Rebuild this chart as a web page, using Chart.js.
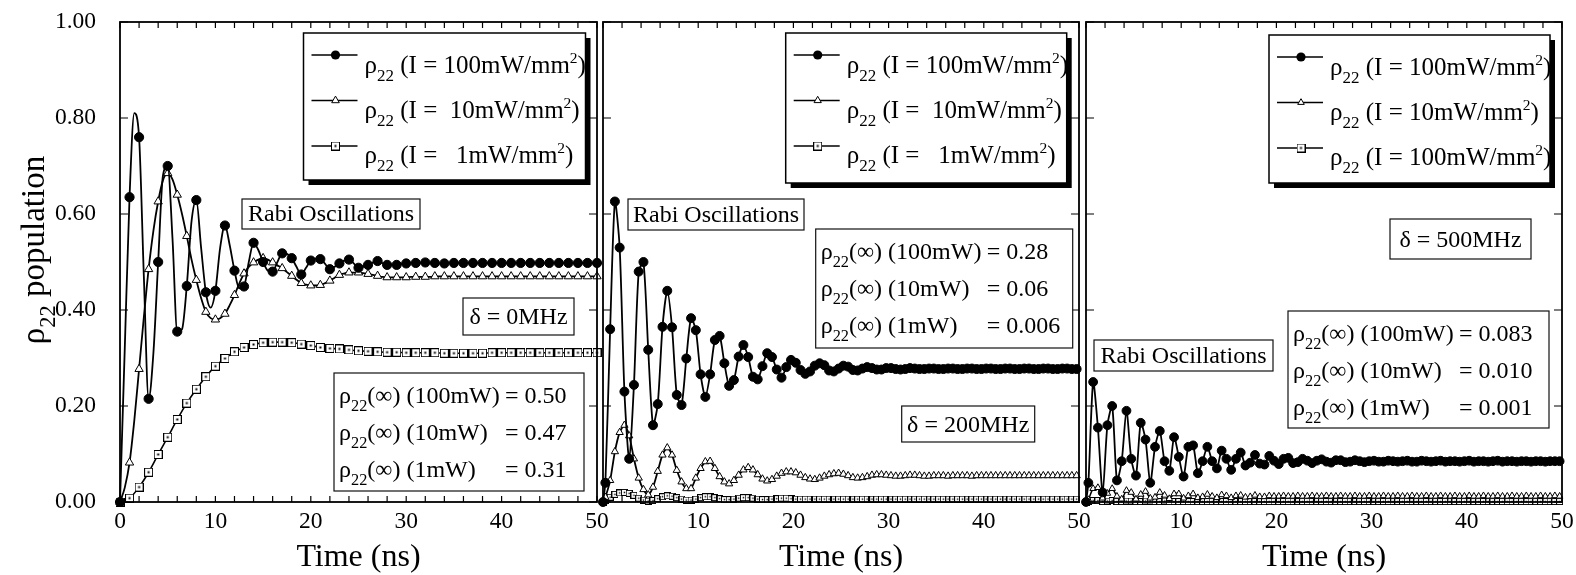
<!DOCTYPE html>
<html>
<head>
<meta charset="utf-8">
<title>rho22 population vs time</title>
<script src="https://cdn.jsdelivr.net/npm/chart.js@4.4.1/dist/chart.umd.min.js"></script>
<style>
  body { margin: 0; background: #fff; }
  #wrap { position: relative; width: 1576px; height: 575px; overflow: hidden; }
  #wrap canvas { position: absolute; top: 0; }
</style>
</head>
<body>
<div id="wrap">
  <canvas id="c1" width="612" height="575" style="left:0px"></canvas>
  <canvas id="c2" width="503" height="575" style="left:588px"></canvas>
  <canvas id="c3" width="505" height="575" style="left:1071px"></canvas>
</div>
<script>
var FONT = '"Liberation Serif", "Times New Roman", serif';

// axes
var X_MIN = 0, X_MAX = 50, X_STEP = 10, X_MINOR = 2;
var Y_MIN = 0, Y_MAX = 1, Y_STEP = 0.2;
var yTickLabels = ['0.00', '0.20', '0.40', '0.60', '0.80', '1.00'];

// panel 1 (delta = 0 MHz): 100mW and 10mW read every 0.5 ns, 1mW every 1 ns
var STEP_A = 0.5, STEP_A1 = 1;
var p1_100 = [
  0, 0.32, 0.635, 0.81, 0.76, 0.47, 0.215, 0.31, 0.50, 0.68,
  0.70, 0.55, 0.355, 0.36, 0.45, 0.585, 0.629, 0.53, 0.437, 0.405,
  0.44, 0.53, 0.576, 0.535, 0.482, 0.445, 0.449, 0.50, 0.54, 0.525,
  0.50, 0.482, 0.48, 0.50, 0.518, 0.517, 0.508, 0.49, 0.474, 0.488,
  0.503, 0.507, 0.506, 0.496, 0.485, 0.49, 0.497, 0.503, 0.505, 0.497,
  0.488, 0.49, 0.494, 0.499, 0.502, 0.498, 0.494, 0.494, 0.494, 0.496,
  0.497, 0.498, 0.498, 0.498, 0.499, 0.498, 0.498, 0.497, 0.497, 0.498,
  0.498, 0.498, 0.498, 0.498, 0.498, 0.498, 0.498, 0.498, 0.498, 0.498,
  0.498, 0.498, 0.498, 0.498, 0.498, 0.498, 0.498, 0.498, 0.498, 0.498,
  0.498, 0.498, 0.498, 0.498, 0.498, 0.498, 0.498, 0.498, 0.498, 0.498,
  0.498
];
var p1_10 = [
  0, 0.03, 0.082, 0.17, 0.277, 0.385, 0.485, 0.565, 0.626, 0.67,
  0.685, 0.672, 0.64, 0.60, 0.554, 0.505, 0.4625, 0.425, 0.396, 0.383,
  0.38, 0.383, 0.392, 0.41, 0.431, 0.455, 0.476, 0.49, 0.499, 0.505,
  0.508, 0.505, 0.499, 0.493, 0.487, 0.479, 0.471, 0.463, 0.456, 0.453,
  0.451, 0.451, 0.452, 0.456, 0.461, 0.467, 0.473, 0.476, 0.478, 0.478,
  0.478, 0.477, 0.475, 0.473, 0.471, 0.469, 0.468, 0.468, 0.468, 0.468,
  0.468, 0.469, 0.469, 0.469, 0.469, 0.469, 0.47, 0.47, 0.47, 0.47,
  0.47, 0.47, 0.47, 0.47, 0.47, 0.47, 0.47, 0.47, 0.47, 0.47,
  0.47, 0.47, 0.47, 0.47, 0.47, 0.47, 0.47, 0.47, 0.47, 0.47,
  0.47, 0.47, 0.47, 0.47, 0.47, 0.47, 0.47, 0.47, 0.47, 0.47,
  0.47
];
var p1_1 = [
  0, 0.008, 0.031, 0.062, 0.099, 0.135, 0.172, 0.206, 0.235, 0.261,
  0.283, 0.299, 0.313, 0.322, 0.328, 0.332, 0.333, 0.333, 0.332, 0.329,
  0.326, 0.322, 0.320, 0.319, 0.317, 0.315, 0.314, 0.313, 0.312, 0.312,
  0.311, 0.311, 0.311, 0.311, 0.310, 0.310, 0.310, 0.310, 0.310, 0.311,
  0.311, 0.311, 0.311, 0.311, 0.311, 0.311, 0.311, 0.311, 0.311, 0.311,
  0.311
];

// panels 2 and 3: points at 0 and then every 0.5 ns from 0.25 ns
var STEP_B = 0.5, START_B = 0.25;
var p2_100 = [0,
  0.04, 0.36, 0.626, 0.53, 0.23, 0.09, 0.244, 0.48, 0.50, 0.317,
  0.16, 0.204, 0.365, 0.44, 0.364, 0.223, 0.202, 0.299, 0.383, 0.358,
  0.266, 0.219, 0.266, 0.3375, 0.346, 0.289, 0.242, 0.254, 0.303, 0.327,
  0.302, 0.261, 0.2555, 0.283, 0.31, 0.302, 0.276, 0.259, 0.281, 0.296,
  0.29, 0.275, 0.267, 0.272, 0.284, 0.289, 0.285, 0.274, 0.272, 0.278,
  0.284, 0.282, 0.275, 0.274, 0.278, 0.281, 0.279, 0.276, 0.276, 0.279,
  0.279, 0.277, 0.276, 0.277, 0.279, 0.278, 0.277, 0.277, 0.278, 0.278,
  0.277, 0.277, 0.278, 0.278, 0.277, 0.277, 0.278, 0.278, 0.277, 0.277,
  0.278, 0.278, 0.277, 0.277, 0.278, 0.278, 0.277, 0.277, 0.278, 0.278,
  0.277, 0.277, 0.278, 0.278, 0.277, 0.277, 0.278, 0.278, 0.277, 0.277
];
var p2_10 = [0,
  0.01, 0.045, 0.105, 0.145, 0.16, 0.138, 0.09, 0.05, 0.026, 0.015,
  0.031, 0.064, 0.098, 0.113, 0.098, 0.066, 0.042, 0.028, 0.028, 0.05,
  0.07, 0.084, 0.085, 0.07, 0.053, 0.042, 0.038, 0.045, 0.056, 0.067,
  0.072, 0.067, 0.057, 0.048, 0.044, 0.047, 0.054, 0.06, 0.063, 0.063,
  0.061, 0.056, 0.051, 0.048, 0.047, 0.05, 0.054, 0.057, 0.059, 0.06,
  0.058, 0.055, 0.051, 0.05, 0.051, 0.053, 0.056, 0.057, 0.057, 0.056,
  0.055, 0.054, 0.054, 0.055, 0.056, 0.056, 0.055, 0.054, 0.054, 0.055,
  0.055, 0.055, 0.054, 0.055, 0.055, 0.055, 0.055, 0.054, 0.055, 0.055,
  0.055, 0.055, 0.055, 0.055, 0.055, 0.055, 0.055, 0.055, 0.055, 0.055,
  0.055, 0.055, 0.055, 0.055, 0.055, 0.055, 0.055, 0.055, 0.055, 0.055
];
var p2_1 = [0,
  0.003, 0.01, 0.016, 0.019, 0.02, 0.018, 0.014, 0.008, 0.004, 0.002,
  0.003, 0.007, 0.011, 0.013, 0.012, 0.009, 0.006, 0.004, 0.004, 0.006,
  0.009, 0.011, 0.011, 0.009, 0.007, 0.005, 0.005, 0.006, 0.008, 0.009,
  0.009, 0.008, 0.006, 0.005, 0.005, 0.006, 0.007, 0.008, 0.008, 0.007,
  0.006, 0.006, 0.006, 0.006, 0.006, 0.006, 0.006, 0.006, 0.006, 0.006,
  0.006, 0.006, 0.006, 0.006, 0.006, 0.006, 0.006, 0.006, 0.006, 0.006,
  0.006, 0.006, 0.006, 0.006, 0.006, 0.006, 0.006, 0.006, 0.006, 0.006,
  0.006, 0.006, 0.006, 0.006, 0.006, 0.006, 0.006, 0.006, 0.006, 0.006,
  0.006, 0.006, 0.006, 0.006, 0.006, 0.006, 0.006, 0.006, 0.006, 0.006,
  0.006, 0.006, 0.006, 0.006, 0.006, 0.006, 0.006, 0.006, 0.006, 0.006
];
var p3_100 = [0,
  0.04, 0.25, 0.155, 0.02, 0.16, 0.20, 0.045, 0.085, 0.19, 0.09,
  0.055, 0.165, 0.13, 0.04, 0.115, 0.148, 0.085, 0.065, 0.135, 0.094,
  0.053, 0.115, 0.118, 0.06, 0.085, 0.115, 0.085, 0.07, 0.107, 0.09,
  0.067, 0.09, 0.103, 0.076, 0.082, 0.098, 0.08, 0.078, 0.096, 0.086,
  0.079, 0.09, 0.092, 0.081, 0.083, 0.09, 0.086, 0.081, 0.086, 0.089,
  0.084, 0.082, 0.087, 0.087, 0.083, 0.084, 0.087, 0.085, 0.083, 0.085,
  0.086, 0.084, 0.084, 0.086, 0.085, 0.084, 0.085, 0.086, 0.084, 0.084,
  0.086, 0.085, 0.084, 0.085, 0.086, 0.084, 0.085, 0.085, 0.084, 0.085,
  0.086, 0.084, 0.085, 0.085, 0.084, 0.085, 0.086, 0.084, 0.085, 0.085,
  0.084, 0.085, 0.085, 0.084, 0.085, 0.085, 0.084, 0.085, 0.085, 0.085
];
var p3_10 = [0,
  0.005, 0.028, 0.03, 0.008, 0.018, 0.028, 0.012, 0.006, 0.024, 0.02,
  0.006, 0.016, 0.022, 0.008, 0.01, 0.02, 0.014, 0.007, 0.017, 0.017,
  0.008, 0.013, 0.017, 0.009, 0.011, 0.016, 0.012, 0.009, 0.015, 0.013,
  0.009, 0.013, 0.014, 0.01, 0.011, 0.014, 0.011, 0.011, 0.013, 0.012,
  0.012, 0.013, 0.012, 0.012, 0.013, 0.012, 0.012, 0.013, 0.012, 0.012,
  0.013, 0.012, 0.012, 0.013, 0.012, 0.012, 0.013, 0.012, 0.012, 0.013,
  0.012, 0.012, 0.013, 0.012, 0.012, 0.013, 0.012, 0.012, 0.013, 0.012,
  0.012, 0.013, 0.012, 0.012, 0.013, 0.012, 0.012, 0.013, 0.012, 0.012,
  0.013, 0.012, 0.012, 0.013, 0.012, 0.012, 0.013, 0.012, 0.012, 0.013,
  0.012, 0.012, 0.013, 0.012, 0.012, 0.013, 0.012, 0.012, 0.013, 0.012
];
var p3_1 = [0,
  0.001, 0.003, 0.003, 0.001, 0.002, 0.003, 0.001, 0.001, 0.002, 0.002,
  0.001, 0.001, 0.002, 0.002, 0.001, 0.001, 0.002, 0.001, 0.001, 0.001,
  0.001, 0.001, 0.001, 0.001, 0.001, 0.001, 0.001, 0.001, 0.001, 0.001,
  0.001, 0.001, 0.001, 0.001, 0.001, 0.001, 0.001, 0.001, 0.001, 0.001,
  0.001, 0.001, 0.001, 0.001, 0.001, 0.001, 0.001, 0.001, 0.001, 0.001,
  0.001, 0.001, 0.001, 0.001, 0.001, 0.001, 0.001, 0.001, 0.001, 0.001,
  0.001, 0.001, 0.001, 0.001, 0.001, 0.001, 0.001, 0.001, 0.001, 0.001,
  0.001, 0.001, 0.001, 0.001, 0.001, 0.001, 0.001, 0.001, 0.001, 0.001,
  0.001, 0.001, 0.001, 0.001, 0.001, 0.001, 0.001, 0.001, 0.001, 0.001,
  0.001, 0.001, 0.001, 0.001, 0.001, 0.001, 0.001, 0.001, 0.001, 0.001
];

var timeA = p1_100.map(function (_, i) { return i * STEP_A; });
var timeA1 = p1_1.map(function (_, i) { return i * STEP_A1; });
var timeB = p2_100.map(function (_, i) { return i === 0 ? 0 : START_B + (i - 1) * STEP_B; });

// texts
var legend1 = [' (I = 100mW/mm', ' (I =  10mW/mm', ' (I =   1mW/mm'];
var legend2 = [' (I = 100mW/mm', ' (I =  10mW/mm', ' (I =   1mW/mm'];
var legend3 = [' (I = 100mW/mm', ' (I = 10mW/mm', ' (I = 100mW/mm'];
var steady1 = [['(\u221E) (100mW)', '= 0.50'], ['(\u221E) (10mW)', '= 0.47'], ['(\u221E) (1mW)', '= 0.31']];
var steady2 = [['(\u221E) (100mW)', '= 0.28'], ['(\u221E) (10mW)', '= 0.06'], ['(\u221E) (1mW)', '= 0.006']];
var steady3 = [['(\u221E) (100mW)', '= 0.083'], ['(\u221E) (10mW)', '= 0.010'], ['(\u221E) (1mW)', '= 0.001']];

function squareImg(size, dot) {
  var c = document.createElement('canvas');
  c.width = size; c.height = size;
  var g = c.getContext('2d');
  g.fillStyle = '#fff'; g.fillRect(0, 0, size, size);
  g.strokeStyle = '#000'; g.lineWidth = 1;
  g.strokeRect(0.5, 0.5, size - 1, size - 1);
  g.fillStyle = '#000';
  g.fillRect(size / 2 - dot / 2, size / 2 - dot / 2, dot, dot);
  return c;
}
var squareBig = squareImg(9, 2);
var squareSmall = squareImg(7, 1.5);

function rich(ctx, parts, x, y, size) {
  parts.forEach(function (p) {
    var s = size, dy = 0;
    if (p[1] === 'sub') { s = size * 0.68; dy = size * 0.33; }
    if (p[1] === 'sup') { s = size * 0.62; dy = -size * 0.42; }
    ctx.font = s + 'px ' + FONT;
    ctx.fillText(p[0], x, y + dy);
    x += ctx.measureText(p[0]).width;
  });
  return x;
}
function richWidth(ctx, parts, size) {
  var w = 0;
  parts.forEach(function (p) {
    var s = size;
    if (p[1] === 'sub') s = size * 0.68;
    if (p[1] === 'sup') s = size * 0.62;
    ctx.font = s + 'px ' + FONT;
    w += ctx.measureText(p[0]).width;
  });
  return w;
}

function drawMarker(ctx, m, x, y) {
  if (m.style === 'circle') {
    ctx.fillStyle = '#000';
    ctx.beginPath(); ctx.arc(x, y, m.r, 0, Math.PI * 2); ctx.fill();
  } else if (m.style === 'triangle') {
    var s = Math.sin(Math.PI * 2 / 3) * m.r;
    ctx.fillStyle = '#fff'; ctx.lineWidth = 1;
    ctx.beginPath();
    ctx.moveTo(x, y - m.r); ctx.lineTo(x + s, y + m.r / 2); ctx.lineTo(x - s, y + m.r / 2);
    ctx.closePath(); ctx.fill(); ctx.stroke();
  } else {
    ctx.drawImage(m.style, x - m.style.width / 2, y - m.style.height / 2);
  }
}

var decoPlugin = {
  id: 'deco',
  afterDatasetsDraw: function (chart, args, opts) {
    var ctx = chart.ctx, a = chart.chartArea;
    var xs = chart.scales.x, ys = chart.scales.y;
    ctx.save();
    ctx.textAlign = 'left'; ctx.textBaseline = 'alphabetic';
    ctx.strokeStyle = '#000';

    // frame and inward ticks
    ctx.lineWidth = 1.8;
    ctx.strokeRect(a.left, a.top, a.right - a.left, a.bottom - a.top);
    ctx.lineWidth = 1.2;
    ctx.beginPath();
    for (var t = X_MIN; t <= X_MAX; t += X_MINOR) {
      var px = xs.getPixelForValue(t);
      ctx.moveTo(px, a.top); ctx.lineTo(px, a.top + 6);
      ctx.moveTo(px, a.bottom); ctx.lineTo(px, a.bottom - 6);
    }
    for (var k = 0; k < yTickLabels.length; k++) {
      var py = ys.getPixelForValue(Y_MIN + k * Y_STEP);
      ctx.moveTo(a.left, py); ctx.lineTo(a.left + 8, py);
      ctx.moveTo(a.right, py); ctx.lineTo(a.right - 8, py);
    }
    ctx.stroke();

    // legend with drop shadow
    var L = opts.legend, bx = a.left + L.x, by = a.top + L.y;
    ctx.fillStyle = '#000'; ctx.fillRect(bx + 5, by + 5, L.w, L.h);
    ctx.fillStyle = '#fff'; ctx.fillRect(bx, by, L.w, L.h);
    ctx.lineWidth = 1.5; ctx.strokeRect(bx, by, L.w, L.h);
    L.labels.forEach(function (lab, i) {
      var ly = by + 22 + i * 45.5, tb = by + 40 + i * 45;
      ctx.strokeStyle = '#000'; ctx.lineWidth = 1.5;
      ctx.beginPath(); ctx.moveTo(bx + 8, ly); ctx.lineTo(bx + 54, ly); ctx.stroke();
      drawMarker(ctx, L.markers[i], bx + 32, ly);
      ctx.fillStyle = '#000';
      rich(ctx, [['\u03C1'], ['22', 'sub'], [lab], ['2', 'sup'], [')']], bx + 61, tb, 25);
    });

    // framed notes
    opts.notes.forEach(function (n) {
      var nx = a.left + n.x, ny = a.top + n.y;
      ctx.fillStyle = '#fff'; ctx.fillRect(nx, ny, n.w, n.h);
      ctx.strokeStyle = '#111'; ctx.lineWidth = 1.2; ctx.strokeRect(nx, ny, n.w, n.h);
      ctx.fillStyle = '#000';
      if (n.text) {
        ctx.font = '24px ' + FONT;
        var tw = ctx.measureText(n.text).width;
        ctx.fillText(n.text, nx + (n.w - tw) / 2, ny + n.base);
      } else {
        n.rows.forEach(function (r, i) {
          var yb = ny + 30 + i * 37;
          rich(ctx, [['\u03C1'], ['22', 'sub'], [r[0]]], nx + 5, yb, 24);
          ctx.font = '24px ' + FONT;
          ctx.fillText(r[1], nx + 171, yb);
        });
      }
    });

    // y axis title (first panel only)
    if (opts.yTitle) {
      var parts = [['\u03C1'], ['22', 'sub'], [' population']];
      ctx.translate(opts.yTitle.x, opts.yTitle.y);
      ctx.rotate(-Math.PI / 2);
      var w = richWidth(ctx, parts, 33);
      rich(ctx, parts, -w / 2, 0, 33);
    }
    ctx.restore();
  }
};

function pts(t, y) { return y.map(function (v, i) { return { x: t[i], y: v }; }); }
function onWhole(r) {
  return function (c) { return (c.raw && c.raw.x % 1 === 0) ? r : 0; };
}
function line(t, y, m) {
  return {
    data: pts(t, y),
    borderColor: '#000', borderWidth: m.lw,
    tension: m.tension || 0, cubicInterpolationMode: m.mono ? 'monotone' : 'default',
    pointStyle: m.style, pointRadius: m.radius, pointHoverRadius: 0,
    pointBorderWidth: 1, pointBackgroundColor: m.fill || '#fff', pointBorderColor: '#000',
    clip: false
  };
}

function makePanel(id, cfg) {
  return new Chart(document.getElementById(id), {
    type: 'line',
    data: { datasets: cfg.datasets },
    options: {
      responsive: false, animation: false, events: [],
      layout: { padding: { left: cfg.padL, right: cfg.padR, top: 22, bottom: 0 } },
      plugins: { legend: { display: false }, tooltip: { enabled: false }, deco: cfg.deco },
      scales: {
        x: {
          type: 'linear', min: X_MIN, max: X_MAX,
          grid: { display: false, drawTicks: false }, border: { display: false },
          ticks: {
            stepSize: X_STEP, padding: 6, color: '#000', font: { family: FONT, size: 23.5 },
            callback: function (v) { return (cfg.hideZero && v === 0) ? '' : String(v); }
          },
          title: { display: true, text: 'Time (ns)', color: '#000', padding: 0,
                   font: { family: FONT, size: 32, lineHeight: 1.1 } },
          afterFit: function (s) { s.height = 73; s.paddingLeft = 0; s.paddingRight = 0; }
        },
        y: {
          type: 'linear', min: Y_MIN, max: Y_MAX, display: cfg.showY,
          grid: { display: false, drawTicks: false }, border: { display: false },
          ticks: {
            stepSize: Y_STEP, padding: 24, color: '#000', font: { family: FONT, size: 23.5 },
            callback: function (v, i) { return yTickLabels[i]; }
          },
          afterFit: function (s) {
            s.width = cfg.showY ? 120 : 0;
            s.paddingTop = 0; s.paddingBottom = 0;
          }
        }
      }
    },
    plugins: [decoPlugin]
  });
}

makePanel('c1', {
  padL: 0, padR: 15, showY: true, hideZero: false,
  datasets: [
    line(timeA, p1_100, { lw: 1.8, mono: true, style: 'circle', radius: onWhole(4.6), fill: '#000' }),
    line(timeA, p1_10, { lw: 1.8, mono: true, style: 'triangle', radius: onWhole(4.8) }),
    line(timeA1, p1_1, { lw: 1.6, mono: true, style: squareBig, radius: 4.5 })
  ],
  deco: {
    yTitle: { x: 44, y: 250 },
    legend: { x: 183.5, y: 11, w: 282, h: 147, labels: legend1,
              markers: [{ style: 'circle', r: 4.6 }, { style: 'triangle', r: 4.4 }, { style: squareBig }] },
    notes: [
      { x: 122, y: 177, w: 178, h: 30, text: 'Rabi Oscillations', base: 22 },
      { x: 343, y: 276, w: 111, h: 37, text: '\u03B4 = 0MHz', base: 26 },
      { x: 214, y: 351, w: 250, h: 118, rows: steady1 }
    ]
  }
});

makePanel('c2', {
  padL: 15, padR: 12, showY: false, hideZero: true,
  datasets: [
    line(timeB, p2_100, { lw: 1.8, tension: 0.25, style: 'circle', radius: 4.5, fill: '#000' }),
    line(timeB, p2_10, { lw: 1.8, tension: 0.25, style: 'triangle', radius: 4.2 }),
    line(timeB, p2_1, { lw: 1.3, tension: 0.25, style: squareSmall, radius: 3.5 })
  ],
  deco: {
    legend: { x: 182.7, y: 11, w: 281, h: 150, labels: legend2,
              markers: [{ style: 'circle', r: 4.6 }, { style: 'triangle', r: 4.2 }, { style: squareBig }] },
    notes: [
      { x: 25, y: 177, w: 176, h: 31, text: 'Rabi Oscillations', base: 23 },
      { x: 212.7, y: 207, w: 257, h: 119, rows: steady2 },
      { x: 298.7, y: 384, w: 133, h: 36, text: '\u03B4 = 200MHz', base: 26 }
    ]
  }
});

makePanel('c3', {
  padL: 15, padR: 14, showY: false, hideZero: true,
  datasets: [
    line(timeB, p3_100, { lw: 1.8, tension: 0.25, style: 'circle', radius: 4.4, fill: '#000' }),
    line(timeB, p3_10, { lw: 1.5, tension: 0.25, style: 'triangle', radius: 3.8 }),
    line(timeB, p3_1, { lw: 1.3, tension: 0.25, style: squareSmall, radius: 3.5 })
  ],
  deco: {
    legend: { x: 183, y: 13, w: 281, h: 148, labels: legend3,
              markers: [{ style: 'circle', r: 4.6 }, { style: 'triangle', r: 3.8 }, { style: squareBig }] },
    notes: [
      { x: 304, y: 197, w: 141, h: 40, text: '\u03B4 = 500MHz', base: 28 },
      { x: 202, y: 289, w: 261, h: 117, rows: steady3 },
      { x: 8, y: 318, w: 179, h: 31, text: 'Rabi Oscillations', base: 23 }
    ]
  }
});
</script>
</body>
</html>
